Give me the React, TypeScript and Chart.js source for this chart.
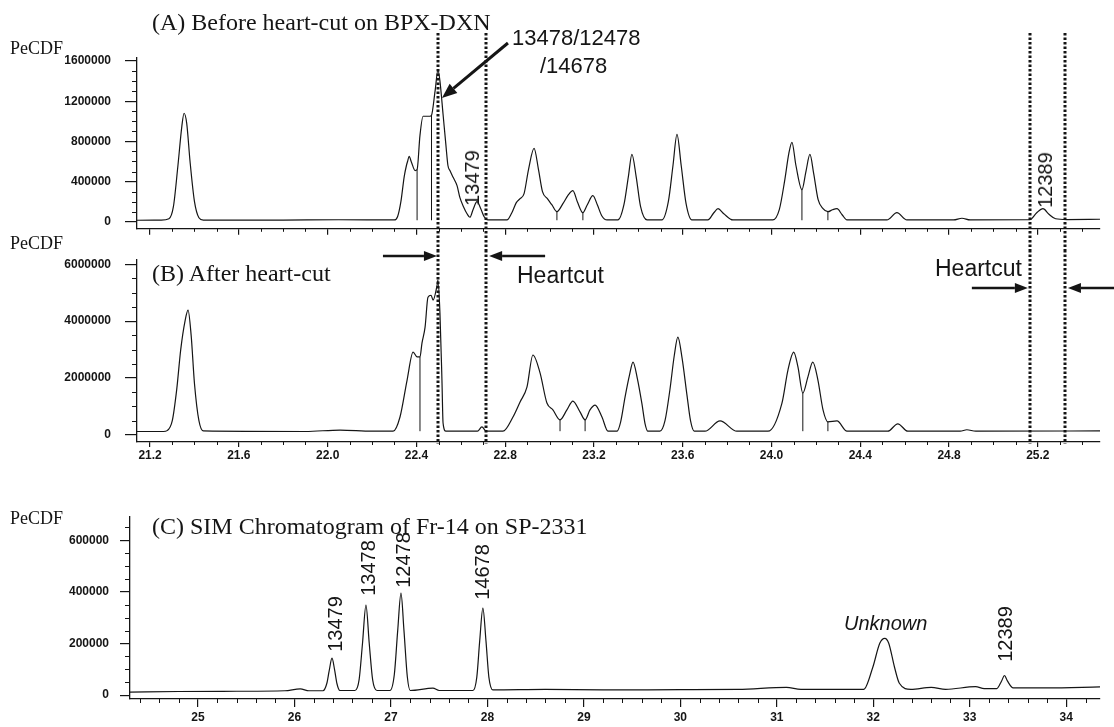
import React, { useEffect, useRef } from "react";
import { Chart, registerables } from "chart.js";

Chart.register(...registerables);

// ---------------- Panel A: before heart-cut on BPX-DXN ----------------
const A_TIME = [
  21.141, 21.25, 21.285, 21.305, 21.325, 21.343, 21.353, 21.365, 21.38, 21.4, 21.42, 21.44,
  21.8, 22.05, 22.3, 22.315, 22.33, 22.345, 22.355, 22.36, 22.367, 22.378, 22.394, 22.403,
  22.416, 22.43, 22.461, 22.468, 22.484, 22.497, 22.506, 22.52, 22.533, 22.542, 22.551,
  22.566, 22.583, 22.596, 22.612, 22.628, 22.641, 22.655, 22.673, 22.69, 22.705, 22.722,
  22.808, 22.83, 22.85, 22.867, 22.885, 22.905, 22.93, 22.95, 22.968, 22.99, 23.01, 23.033,
  23.06, 23.085, 23.105, 23.125, 23.15, 23.17, 23.195, 23.215, 23.235, 23.259,
  23.308, 23.335, 23.355, 23.371, 23.39, 23.41, 23.439,
  23.506, 23.535, 23.556, 23.574, 23.593, 23.615, 23.641,
  23.713, 23.74, 23.759, 23.785, 23.826,
  24.006, 24.035, 24.06, 24.078, 24.092, 24.11, 24.137, 24.155, 24.173, 24.19, 24.21, 24.232,
  24.254, 24.275, 24.295, 24.318, 24.34,
  24.52, 24.565, 24.61, 24.82, 24.858, 24.895,
  25.164, 25.195, 25.223, 25.25, 25.28, 25.33, 25.48,
];
const A_SIGNAL = [
  15000, 16000, 30000, 150000, 550000, 950000, 1080000, 980000, 600000, 200000, 40000, 16000,
  17000, 20000, 18000, 50000, 200000, 450000, 560000, 600000, 650000, 590000, 510000, 520000,
  860000, 1050000, 1050000, 1060000, 1300000, 1510000, 1400000, 1070000, 760000, 560000, 510000,
  440000, 360000, 240000, 150000, 80000, 45000, 120000, 200000, 130000, 50000, 18000,
  18000, 90000, 190000, 230000, 280000, 520000, 730000, 520000, 300000, 230000, 170000, 100000,
  180000, 270000, 310000, 200000, 90000, 170000, 260000, 170000, 60000, 18000,
  18000, 170000, 450000, 670000, 450000, 150000, 18000,
  18000, 200000, 560000, 870000, 560000, 180000, 18000,
  18000, 90000, 130000, 80000, 18000,
  18000, 120000, 420000, 680000, 790000, 560000, 320000, 500000, 670000, 480000, 220000, 130000,
  100000, 120000, 130000, 70000, 18000,
  18000, 90000, 18000, 18000, 35000, 18000,
  20000, 90000, 130000, 75000, 30000, 22000, 25000,
];
const A_DROP_TIMES = [22.403, 22.468, 23.033, 23.15, 24.137, 24.254];
const A_BASELINE = 15000;

// ---------------- Panel B: after heart-cut ----------------
const B_TIME = [
  21.141, 21.26, 21.277, 21.3, 21.32, 21.338, 21.358, 21.371, 21.385, 21.4, 21.42, 21.44,
  21.9, 22.056, 22.2, 22.295, 22.326, 22.358, 22.385, 22.403, 22.416, 22.425, 22.439, 22.452,
  22.466, 22.475, 22.493, 22.497, 22.506, 22.515, 22.52, 22.533,
  22.675, 22.695, 22.715,
  22.79, 22.835, 22.867, 22.898, 22.925, 22.957, 22.988, 23.015, 23.047, 23.078, 23.105,
  23.137, 23.16, 23.182, 23.205, 23.236, 23.263,
  23.304, 23.32, 23.34, 23.36, 23.376, 23.395, 23.416, 23.43, 23.443,
  23.497, 23.52, 23.542, 23.562, 23.578, 23.597, 23.619, 23.635, 23.652,
  23.7, 23.768, 23.844,
  23.984, 24.047, 24.074, 24.1, 24.119, 24.141, 24.164, 24.186, 24.209, 24.232, 24.254,
  24.295, 24.34, 24.524, 24.569, 24.614, 24.85, 24.88, 24.92, 25.48,
];
const B_SIGNAL = [
  120000, 120000, 150000, 500000, 1600000, 3000000, 4030000, 4390000, 3500000, 1800000, 500000, 140000,
  120000, 170000, 130000, 130000, 630000, 1930000, 2910000, 2740000, 2740000, 3230000, 3790000, 4840000,
  4910000, 4740000, 5260000, 5440000, 4280000, 1930000, 420000, 130000,
  130000, 280000, 130000,
  130000, 630000, 1160000, 1680000, 2810000, 2180000, 1120000, 880000, 530000, 880000, 1190000,
  810000, 530000, 880000, 1050000, 630000, 130000,
  130000, 450000, 1330000, 2100000, 2560000, 2000000, 1100000, 400000, 130000,
  130000, 500000, 1580000, 2800000, 3440000, 2700000, 1400000, 500000, 130000,
  130000, 490000, 130000,
  130000, 1120000, 2280000, 2910000, 2390000, 1470000, 2040000, 2560000, 1930000, 880000, 460000,
  490000, 130000, 130000, 390000, 130000, 130000, 180000, 130000, 140000,
];
const B_DROP_TIMES = [22.416, 23.047, 23.16, 24.141, 24.254];
const B_BASELINE = 130000;

// ---------------- Panel C: SIM chromatogram of Fr-14 on SP-2331 ----------------
const C_TIME = [
  24.295, 24.8, 25.4, 25.9, 26.06, 26.15,
  26.295, 26.335, 26.36, 26.389, 26.415, 26.44, 26.47,
  26.627, 26.67, 26.705, 26.741, 26.775, 26.81, 26.855,
  26.99, 27.035, 27.07, 27.104, 27.135, 27.17, 27.2,
  27.435, 27.5,
  27.85, 27.89, 27.92, 27.953, 27.985, 28.015, 28.057,
  28.6, 29.2, 30.0, 30.6, 31.1, 31.25,
  31.9, 31.995, 32.067, 32.119, 32.16, 32.22, 32.27, 32.39,
  32.6, 32.75, 33.06, 33.15, 33.28, 33.33, 33.36, 33.39, 33.45, 33.8, 34.35,
];
const C_SIGNAL = [
  12000, 14000, 15000, 17000, 24000, 17000,
  17000, 45000, 95000, 143000, 100000, 45000, 18000,
  18000, 60000, 200000, 349000, 200000, 60000, 18000,
  18000, 80000, 250000, 395000, 250000, 70000, 18000,
  27000, 18000,
  18000, 70000, 210000, 337000, 210000, 70000, 20000,
  22000, 20000, 21000, 22000, 30000, 22000,
  22000, 108000, 201000, 220000, 201000, 108000, 46000, 22000,
  30000, 22000, 33000, 25000, 25000, 55000, 76000, 55000, 28000, 28000, 32000,
];

const HEARTCUT_TIMES = [22.497, 22.714, 25.164, 25.322];

const AB_X_TICKS = [21.2, 21.6, 22.0, 22.4, 22.8, 23.2, 23.6, 24.0, 24.4, 24.8, 25.2];
const A_Y_TICKS = [0, 400000, 800000, 1200000, 1600000];
const B_Y_TICKS = [0, 2000000, 4000000, 6000000];
const C_X_TICKS = [25, 26, 27, 28, 29, 30, 31, 32, 33, 34];
const C_Y_TICKS = [0, 200000, 400000, 600000];

const INK = "#151515";
const TICK_FONT = { family: "'Liberation Sans', Arial, sans-serif", size: 12, weight: "bold" as const };

function minorValues(majors: number[], parts: number, min: number, max: number) {
  const step = (majors[1] - majors[0]) / parts;
  const out: number[] = [];
  for (let k = -parts * 3; k <= (majors.length + 3) * parts; k++) {
    if (k % parts === 0) continue;
    const v = Math.round((majors[0] + k * step) * 1e6) / 1e6;
    if (v > min && v < max) out.push(v);
  }
  return out;
}

function dotted(ctx: CanvasRenderingContext2D, x: number, y1: number, y2: number) {
  ctx.save();
  ctx.strokeStyle = INK;
  ctx.setLineDash([2.5, 2]);
  ctx.lineWidth = 3;
  ctx.beginPath();
  ctx.moveTo(x, y1);
  ctx.lineTo(x, y2);
  ctx.stroke();
  ctx.restore();
}

function arrow(ctx: CanvasRenderingContext2D, x1: number, y1: number, x2: number, y2: number, w = 2.6, head = 13, half = 5) {
  const a = Math.atan2(y2 - y1, x2 - x1);
  const bx = x2 - head * Math.cos(a);
  const by = y2 - head * Math.sin(a);
  ctx.save();
  ctx.strokeStyle = INK;
  ctx.fillStyle = INK;
  ctx.lineWidth = w;
  ctx.beginPath();
  ctx.moveTo(x1, y1);
  ctx.lineTo(bx, by);
  ctx.stroke();
  ctx.beginPath();
  ctx.moveTo(x2, y2);
  ctx.lineTo(bx + half * Math.sin(a), by - half * Math.cos(a));
  ctx.lineTo(bx - half * Math.sin(a), by + half * Math.cos(a));
  ctx.closePath();
  ctx.fill();
  ctx.restore();
}

type Spec = {
  time: number[];
  signal: number[];
  drops: number[];
  baseline: number;
  xMin: number; xMax: number; yMin: number; yMax: number;
  xTicks: number[]; yTicks: number[];
  xParts: number; yParts: number;
  showX: boolean; xFmt: (v: number) => string;
  yWidth: number; xHeight: number; padTop: number; padRight: number;
  xTickLen: number; yTickLen: number; xPad: number; yPad: number;
  xMinorLen: number; yMinorLen: number;
  extra?: (chart: any) => void;
};

function makeConfig(s: Spec): any {
  const trace = s.time.map((t, i) => ({ x: t, y: s.signal[i] }));
  const dropPts: any[] = [];
  s.drops.forEach((t) => {
    const idx = s.time.indexOf(t);
    const top = idx >= 0 ? s.signal[idx] : s.baseline;
    dropPts.push({ x: t, y: s.baseline }, { x: t, y: top }, { x: t, y: null });
  });
  const xMinor = minorValues(s.xTicks, s.xParts, s.xMin, s.xMax);
  const yMinor = minorValues(s.yTicks, s.yParts, s.yMin, s.yMax);
  const decor = {
    id: "decor",
    afterDraw(chart: any) {
      const { ctx, chartArea } = chart;
      const xs = chart.scales.x;
      const ys = chart.scales.y;
      ctx.save();
      ctx.strokeStyle = INK;
      ctx.lineWidth = 1;
      ctx.beginPath();
      xMinor.forEach((v) => {
        const px = Math.round(xs.getPixelForValue(v)) + 0.5;
        ctx.moveTo(px, chartArea.bottom);
        ctx.lineTo(px, chartArea.bottom + s.xMinorLen);
      });
      yMinor.forEach((v) => {
        const py = Math.round(ys.getPixelForValue(v)) + 0.5;
        ctx.moveTo(chartArea.left - s.yMinorLen, py);
        ctx.lineTo(chartArea.left, py);
      });
      ctx.stroke();
      ctx.restore();
      if (s.extra) s.extra(chart);
    },
  };
  return {
    type: "line",
    data: {
      datasets: [
        {
          data: trace,
          borderColor: INK,
          borderWidth: 1.2,
          pointRadius: 0,
          fill: false,
          cubicInterpolationMode: "monotone",
        },
        {
          data: dropPts,
          borderColor: INK,
          borderWidth: 1,
          pointRadius: 0,
          fill: false,
          spanGaps: false,
          tension: 0,
        },
      ],
    },
    options: {
      animation: false,
      responsive: false,
      maintainAspectRatio: false,
      events: [],
      layout: { padding: { left: 0, right: s.padRight, top: s.padTop, bottom: 0 } },
      plugins: { legend: { display: false }, tooltip: { enabled: false }, title: { display: false } },
      scales: {
        x: {
          type: "linear",
          min: s.xMin,
          max: s.xMax,
          afterBuildTicks: (ax: any) => {
            ax.ticks = s.xTicks.map((v) => ({ value: v }));
          },
          afterFit: (sc: any) => {
            sc.height = s.xHeight;
          },
          grid: { display: true, drawOnChartArea: false, drawTicks: true, tickLength: s.xTickLen, color: INK, lineWidth: 1.2 },
          border: { display: true, color: INK, width: 1.3 },
          ticks: {
            display: s.showX,
            autoSkip: false,
            maxRotation: 0,
            padding: s.xPad,
            color: INK,
            font: TICK_FONT,
            callback: (v: any) => s.xFmt(Number(v)),
          },
        },
        y: {
          type: "linear",
          min: s.yMin,
          max: s.yMax,
          afterBuildTicks: (ax: any) => {
            ax.ticks = s.yTicks.map((v) => ({ value: v }));
          },
          afterFit: (sc: any) => {
            sc.width = s.yWidth;
          },
          grid: { display: true, drawOnChartArea: false, drawTicks: true, tickLength: s.yTickLen, color: INK, lineWidth: 1.2 },
          border: { display: true, color: INK, width: 1.3 },
          ticks: {
            autoSkip: false,
            padding: s.yPad,
            color: INK,
            font: TICK_FONT,
            callback: (v: any) => String(v),
          },
        },
      },
    },
    plugins: [decor],
  };
}

// canvas B starts at B_TOP on the page (overlaps A's canvas; transparent)
const B_TOP = 225;

const specA: Spec = {
  time: A_TIME, signal: A_SIGNAL, drops: A_DROP_TIMES, baseline: A_BASELINE,
  xMin: 21.141, xMax: 25.48, yMin: -70000, yMax: 1630000,
  xTicks: AB_X_TICKS, yTicks: A_Y_TICKS, xParts: 4, yParts: 4,
  showX: false, xFmt: (v) => v.toFixed(1),
  yWidth: 137, xHeight: 12, padTop: 58, padRight: 14,
  xTickLen: 6, yTickLen: 12, xPad: 2, yPad: 14, xMinorLen: 3, yMinorLen: 5,
  extra: (chart) => {
    const { ctx } = chart;
    const xs = chart.scales.x;
    HEARTCUT_TIMES.forEach((t) => dotted(ctx, Math.round(xs.getPixelForValue(t)), 33, chart.height));
    const tipX = xs.getPixelForValue(HEARTCUT_TIMES[0]) + 4;
    arrow(ctx, tipX + 66, 43, tipX, 98, 3, 15, 6);
  },
};

const specB: Spec = {
  time: B_TIME, signal: B_SIGNAL, drops: B_DROP_TIMES, baseline: B_BASELINE,
  xMin: 21.141, xMax: 25.48, yMin: -250000, yMax: 6150000,
  xTicks: AB_X_TICKS, yTicks: B_Y_TICKS, xParts: 4, yParts: 4,
  showX: true, xFmt: (v) => v.toFixed(1),
  yWidth: 137, xHeight: 28, padTop: 260 - B_TOP, padRight: 14,
  xTickLen: 5, yTickLen: 12, xPad: 1, yPad: 14, xMinorLen: 3, yMinorLen: 5,
  extra: (chart) => {
    const { ctx, chartArea } = chart;
    const xs = chart.scales.x;
    HEARTCUT_TIMES.forEach((t) => dotted(ctx, Math.round(xs.getPixelForValue(t)), 250 - B_TOP, chartArea.bottom + 2));
    const p = HEARTCUT_TIMES.map((t) => xs.getPixelForValue(t));
    const yL = 256 - B_TOP;
    const yR = 288 - B_TOP;
    arrow(ctx, p[0] - 55, yL, p[0] - 1, yL);
    arrow(ctx, p[1] + 59, yL, p[1] + 3, yL);
    arrow(ctx, p[2] - 58, yR, p[2] - 2, yR);
    arrow(ctx, chart.width, yR, p[3] + 3, yR);
  },
};

const specC: Spec = {
  time: C_TIME, signal: C_SIGNAL, drops: [], baseline: 0,
  xMin: 24.295, xMax: 34.35, yMin: -15000, yMax: 690000,
  xTicks: C_X_TICKS, yTicks: C_Y_TICKS, xParts: 5, yParts: 4,
  showX: true, xFmt: (v) => String(v),
  yWidth: 130, xHeight: 28, padTop: 47, padRight: 14,
  xTickLen: 8, yTickLen: 10, xPad: 3, yPad: 11, xMinorLen: 4, yMinorLen: 5,
};

type Lbl = { text: string; x: number; y: number; font: string; rotate?: boolean };

const SERIF_T = "24px 'Liberation Serif', 'Times New Roman', serif";
const SERIF_Y = "18px 'Liberation Serif', 'Times New Roman', serif";
const SANS = "'Liberation Sans', Arial, sans-serif";

const LABELS: Lbl[] = [
  { text: "(A) Before heart-cut on BPX-DXN", x: 152, y: 22, font: SERIF_T },
  { text: "PeCDF", x: 10, y: 48, font: SERIF_Y },
  { text: "13478/12478", x: 512, y: 38, font: `22px ${SANS}` },
  { text: "/14678", x: 540, y: 66, font: `22px ${SANS}` },
  { text: "13479", x: 472, y: 178, font: `20px ${SANS}`, rotate: true },
  { text: "12389", x: 1045, y: 180, font: `20px ${SANS}`, rotate: true },
  { text: "PeCDF", x: 10, y: 243, font: SERIF_Y },
  { text: "(B) After heart-cut", x: 152, y: 273, font: SERIF_T },
  { text: "Heartcut", x: 517, y: 275, font: `23px ${SANS}` },
  { text: "Heartcut", x: 935, y: 268, font: `23px ${SANS}` },
  { text: "PeCDF", x: 10, y: 518, font: SERIF_Y },
  { text: "(C) SIM Chromatogram of Fr-14 on SP-2331", x: 152, y: 526, font: SERIF_T },
  { text: "13479", x: 335, y: 624, font: `20px ${SANS}`, rotate: true },
  { text: "13478", x: 368, y: 568, font: `20px ${SANS}`, rotate: true },
  { text: "12478", x: 403, y: 560, font: `20px ${SANS}`, rotate: true },
  { text: "14678", x: 482, y: 572, font: `20px ${SANS}`, rotate: true },
  { text: "Unknown", x: 844, y: 623, font: `italic 20px ${SANS}` },
  { text: "12389", x: 1005, y: 634, font: `20px ${SANS}`, rotate: true },
];

export default function App() {
  const refA = useRef<HTMLCanvasElement>(null);
  const refB = useRef<HTMLCanvasElement>(null);
  const refC = useRef<HTMLCanvasElement>(null);

  useEffect(() => {
    const charts = [
      new Chart(refA.current as HTMLCanvasElement, makeConfig(specA)),
      new Chart(refB.current as HTMLCanvasElement, makeConfig(specB)),
      new Chart(refC.current as HTMLCanvasElement, makeConfig(specC)),
    ];
    return () => charts.forEach((c) => c.destroy());
  }, []);

  const cv = (top: number, h: number): React.CSSProperties => ({
    position: "absolute", left: 0, top, width: 1114, height: h, display: "block",
  });

  return (
    <div style={{ position: "absolute", left: 0, top: 0, width: 1114, height: 727, background: "#fff", overflow: "hidden" }}>
      <canvas ref={refA} width={1114} height={250} style={cv(0, 250)} />
      <canvas ref={refB} width={1114} height={470 - B_TOP} style={cv(B_TOP, 470 - B_TOP)} />
      <canvas ref={refC} width={1114} height={257} style={cv(470, 257)} />
      {LABELS.map((l, i) => (
        <div
          key={i}
          style={{
            position: "absolute",
            left: l.x,
            top: l.y,
            font: l.font,
            lineHeight: 1,
            color: INK,
            whiteSpace: "nowrap",
            transform: l.rotate ? "translate(-50%, -50%) rotate(-90deg)" : "translateY(-50%)",
          }}
        >
          {l.text}
        </div>
      ))}
    </div>
  );
}
